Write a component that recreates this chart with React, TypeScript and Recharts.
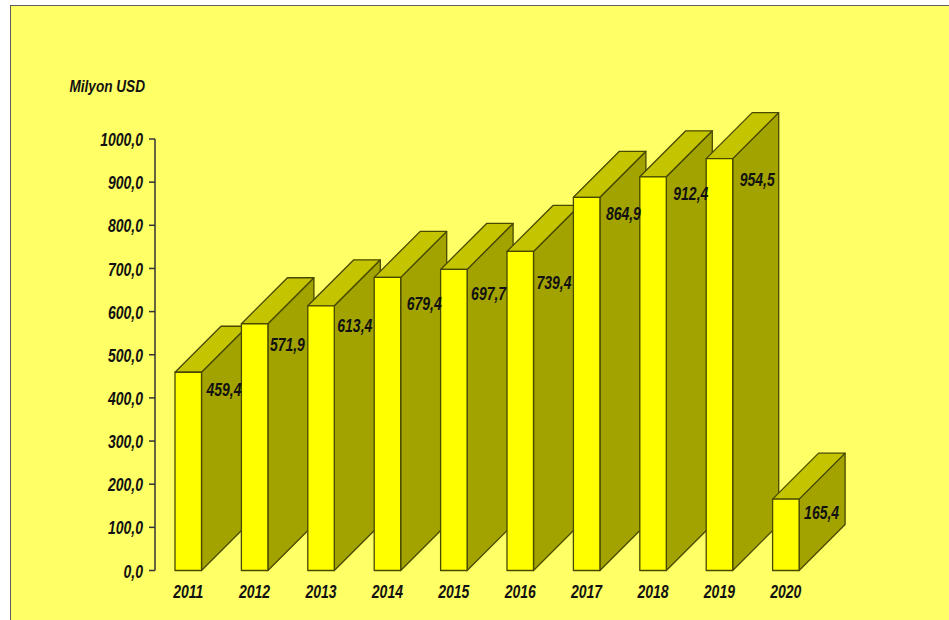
import { BarChart, Bar, XAxis, YAxis, LabelList } from "recharts";

const years = ["2011", "2012", "2013", "2014", "2015", "2016", "2017", "2018", "2019", "2020"];
const exports_ = [459.4, 571.9, 613.4, 679.4, 697.7, 739.4, 864.9, 912.4, 954.5, 165.4];
const yTicks = [0, 100, 200, 300, 400, 500, 600, 700, 800, 900, 1000];

// hand placement of the value labels on the side faces
const labelNudgeX = [5, 2, 3, 6, 4, 3, 6, 7, 7, 5];
const labelNudgeY = [18, 21, 20, 27, 24, 31, 17, 17, 21, 14];

const data = years.map((year, i) => ({ year, value: exports_[i] }));

const DEPTH = 46;
const EDGE = "#484800";
const TEXT_SCALE = "scale(0.8,1)";
const textStyle = {
  fontFamily: "'Liberation Sans', Arial, sans-serif",
  fontWeight: 700,
  fontStyle: "italic",
  fontSize: 17.5,
  fill: "#111",
};

const fmt = (v: number) => v.toFixed(1).replace(".", ",");

const Box3D = ({ x, y, width, height }: any) => {
  const r = x + width;
  const b = y + height;
  return (
    <g stroke={EDGE} strokeWidth={1.3} strokeLinejoin="round">
      <polygon
        points={`${r},${y} ${r + DEPTH},${y - DEPTH} ${r + DEPTH},${b - DEPTH} ${r},${b}`}
        fill="#a3a300"
      />
      <polygon
        points={`${x},${y} ${x + DEPTH},${y - DEPTH} ${r + DEPTH},${y - DEPTH} ${r},${y}`}
        fill="#c4c400"
      />
      <rect x={x} y={y} width={width} height={height} fill="#ffff00" />
    </g>
  );
};

const SideLabel = ({ x, y, width, index, value }: any) => (
  <text
    transform={`translate(${x + width + labelNudgeX[index]},${y + labelNudgeY[index]}) ${TEXT_SCALE}`}
    dominantBaseline="central"
    style={textStyle}
  >
    {fmt(value)}
  </text>
);

const YTick = ({ x, y, payload }: any) => (
  <text
    transform={`translate(${x},${y + 1}) ${TEXT_SCALE}`}
    textAnchor="end"
    dominantBaseline="central"
    style={textStyle}
  >
    {fmt(payload.value)}
  </text>
);

const XTick = ({ x, y, payload }: any) => (
  <text
    transform={`translate(${x},${y}) ${TEXT_SCALE}`}
    textAnchor="middle"
    dominantBaseline="central"
    style={textStyle}
  >
    {payload.value}
  </text>
);

export default function App() {
  return (
    <div style={{ position: "absolute", left: 0, top: 0, width: 949, height: 620, background: "#fff", overflow: "hidden" }}>
      {/* panel with only its top and left edges showing */}
      <div
        style={{
          position: "absolute",
          left: 10,
          top: 5,
          right: 0,
          bottom: 0,
          background: "#ffff66",
          borderLeft: "1px solid #606060",
          borderTop: "1px solid #606060",
        }}
      />
      <div style={{ position: "absolute", left: 0, top: 0 }}>
        <BarChart
          width={949}
          height={620}
          data={data}
          barSize={26.5}
          margin={{ top: 139, right: 130, bottom: 19.5, left: 11 }}
        >
          <XAxis
            dataKey="year"
            height={30}
            axisLine={false}
            tickLine={false}
            interval={0}
            tick={(p: any) => <XTick {...p} y={592} />}
          />
          <YAxis
            width={144}
            domain={[0, 1000]}
            ticks={yTicks}
            interval={0}
            axisLine={{ stroke: "#333", strokeWidth: 1.5 }}
            tickLine={{ stroke: "#333", strokeWidth: 1.5 }}
            tickSize={6}
            tick={(p: any) => <YTick {...p} x={143} />}
          />
          <Bar dataKey="value" shape={<Box3D />} isAnimationActive={false}>
            <LabelList dataKey="value" content={<SideLabel />} />
          </Bar>
          <text
            transform={`translate(69.5,86) ${TEXT_SCALE}`}
            dominantBaseline="central"
            style={{ ...textStyle, fontSize: 17 }}
          >
            Milyon USD
          </text>
        </BarChart>
      </div>
    </div>
  );
}
